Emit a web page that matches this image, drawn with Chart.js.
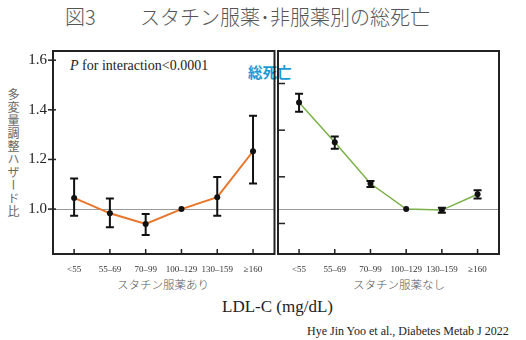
<!DOCTYPE html>
<html>
<head>
<meta charset="utf-8">
<script src="https://cdn.jsdelivr.net/npm/chart.js@4.4.1/dist/chart.umd.min.js"></script>
<style>
body { margin: 0; width: 526px; height: 340px; background: #fff; position: relative; overflow: hidden; font-family: "Noto Sans CJK JP", sans-serif; }
canvas { position: absolute; left: 0; top: 0; }
.t { position: absolute; white-space: nowrap; line-height: 1; }
.serif { font-family: "Liberation Serif", serif; }
</style>
</head>
<body>
<div class="t" style="left:65px;top:7px;font-size:20px;color:#555;font-weight:300">図3</div>
<div class="t" style="left:140px;top:7px;font-size:20px;color:#555;font-weight:300">スタチン服薬･非服薬別の総死亡</div>
<div class="t serif" style="left:70px;top:59px;font-size:14px;color:#222"><i>P</i> for interaction&lt;0.0001</div>
<div class="t" style="left:248px;top:65px;font-size:14.5px;color:#1b9ad6;font-weight:bold">総死亡</div>
<div class="t" style="left:7px;top:88px;font-size:12px;letter-spacing:1px;color:#666;writing-mode:vertical-rl">多変量調整ハザード比</div>
<div class="t" style="left:117px;top:279px;font-size:11.5px;color:#555;font-weight:300">スタチン服薬あり</div>
<div class="t" style="left:353px;top:279px;font-size:11.5px;color:#555;font-weight:300">スタチン服薬なし</div>
<div class="t serif" style="left:222px;top:298px;font-size:17px;color:#222">LDL-C (mg/dL)</div>
<div class="t serif" style="left:307px;top:325px;font-size:12px;color:#222">Hye Jin Yoo et al., Diabetes Metab J 2022</div>

<canvas id="statinChart" width="526" height="340"></canvas>
<canvas id="noStatinChart" width="526" height="340"></canvas>

<script>
// LDL-C categories (mg/dL)
var categories = ['<55', '55–69', '70–99', '100–129', '130–159', '≥160'];

// Statin users: hazard ratio and 95% CI
var statinHR   = [1.045, 0.983, 0.940, 1.000, 1.048, 1.233];
var statinLow  = [0.973, 0.927, 0.896, null, 0.973, 1.103];
var statinHigh = [1.123, 1.043, 0.980, null, 1.129, 1.376];

// Statin non-users: hazard ratio and 95% CI
var noStatinHR   = [1.429, 1.269, 1.103, 1.000, 0.996, 1.060];
var noStatinLow  = [1.392, 1.243, 1.089, null, 0.985, 1.043];
var noStatinHigh = [1.465, 1.292, 1.113, null, 1.005, 1.076];

// y tick labels (left panel) and bare tick marks (right panel)
var yTicks = [1.0, 1.2, 1.4, 1.6];
var noStatinTickMarks = [0.942, 1.130, 1.318, 1.506];

var Y_MIN = 0.819, Y_MAX = 1.637;

// Draws the box, the 1.0 reference line, tick marks and error bars.
var panelFrame = {
    id: 'panelFrame',
    beforeDatasetsDraw(chart) {
        var ctx = chart.ctx, a = chart.chartArea;
        var y1 = chart.scales.y.getPixelForValue(1);
        ctx.save();
        ctx.strokeStyle = '#9a9a9a';
        ctx.lineWidth = 1;
        ctx.beginPath();
        ctx.moveTo(a.left, Math.round(y1) + 0.5);
        ctx.lineTo(a.right, Math.round(y1) + 0.5);
        ctx.stroke();
        ctx.restore();
    },
    afterDatasetsDraw(chart, args, opts) {
        var ctx = chart.ctx, a = chart.chartArea;
        var x = chart.scales.x, y = chart.scales.y;
        ctx.save();
        ctx.strokeStyle = '#111';
        ctx.lineWidth = 2;
        // error bars
        opts.low.forEach(function (lo, i) {
            var hi = opts.high[i];
            if (lo === null || hi === null) return;
            var px = x.getPixelForValue(i);
            var pl = y.getPixelForValue(lo), ph = y.getPixelForValue(hi);
            ctx.beginPath();
            ctx.moveTo(px, pl); ctx.lineTo(px, ph);
            ctx.moveTo(px - 4, pl); ctx.lineTo(px + 4, pl);
            ctx.moveTo(px - 4, ph); ctx.lineTo(px + 4, ph);
            ctx.stroke();
        });
        // box
        ctx.strokeStyle = '#222';
        ctx.lineWidth = 2;
        ctx.strokeRect(a.left, a.top, a.right - a.left, a.bottom - a.top);
        // y tick marks
        ctx.lineWidth = 1.5;
        opts.yMarks.forEach(function (v) {
            var py = y.getPixelForValue(v);
            ctx.beginPath();
            ctx.moveTo(a.left - opts.yOut, py);
            ctx.lineTo(a.left + opts.yIn, py);
            ctx.stroke();
        });
        // x tick marks
        categories.forEach(function (c, i) {
            var px = x.getPixelForValue(i);
            ctx.beginPath();
            ctx.moveTo(px, a.bottom - 5);
            ctx.lineTo(px, a.bottom + 1);
            ctx.stroke();
        });
        ctx.restore();
    }
};

function makePanel(canvasId, hr, low, high, color, lineWidth, showY, yMarks, padding, yOut, yIn) {
    var ctx = document.getElementById(canvasId).getContext('2d');
    return new Chart(ctx, {
        type: 'line',
        data: {
            datasets: [{
                data: hr.map(function (v, i) { return { x: i, y: v }; }),
                borderColor: color,
                borderWidth: lineWidth,
                pointRadius: 3,
                pointBackgroundColor: '#111',
                pointBorderWidth: 0,
                tension: 0
            }]
        },
        options: {
            responsive: false,
            animation: false,
            devicePixelRatio: 1,
            layout: { padding: padding },
            plugins: {
                legend: { display: false },
                tooltip: { enabled: false },
                panelFrame: { low: low, high: high, yMarks: yMarks, yOut: yOut, yIn: yIn }
            },
            scales: {
                x: {
                    type: 'linear',
                    min: -0.59,
                    max: 5.6,
                    grid: { display: false },
                    border: { display: false },
                    afterBuildTicks: function (axis) {
                        axis.ticks = categories.map(function (c, i) { return { value: i }; });
                    },
                    afterFit: function (axis) { axis.height = 30; },
                    ticks: {
                        autoSkip: false,
                        maxRotation: 0,
                        padding: 2,
                        color: '#333',
                        font: { family: 'Liberation Serif', size: 9 },
                        callback: function (v) { return categories[v]; }
                    }
                },
                y: {
                    display: showY,
                    min: Y_MIN,
                    max: Y_MAX,
                    grid: { display: false, drawTicks: false },
                    border: { display: false },
                    afterBuildTicks: function (axis) {
                        axis.ticks = yTicks.map(function (v) { return { value: v }; });
                    },
                    afterFit: function (axis) { axis.width = showY ? 40 : 0; },
                    ticks: {
                        padding: 6,
                        color: '#222',
                        font: { family: 'Liberation Serif', size: 15 },
                        callback: function (v) { return v.toFixed(1); }
                    }
                }
            }
        },
        plugins: [panelFrame]
    });
}

makePanel('statinChart', statinHR, statinLow, statinHigh, '#e8762b', 2, true, yTicks,
    { left: 13, right: 251.5, top: 51, bottom: 56 }, 5, 3);
makePanel('noStatinChart', noStatinHR, noStatinLow, noStatinHigh, '#7ab147', 1.5, false, noStatinTickMarks,
    { left: 278, right: 27, top: 51, bottom: 56 }, 0, 7);
</script>
</body>
</html>
